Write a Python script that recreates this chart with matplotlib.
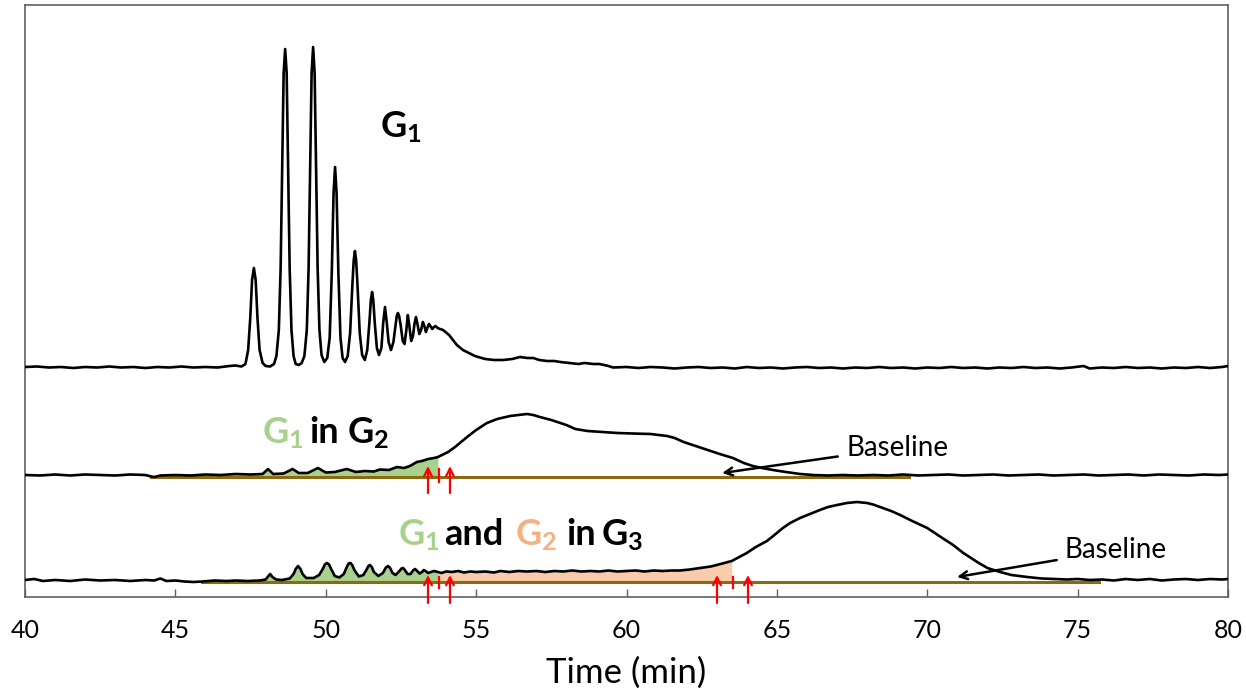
import numpy as np
import matplotlib
matplotlib.use("Agg")
import matplotlib.pyplot as plt

plt.rcParams['font.family'] = ['Lato', 'DejaVu Sans']
plt.rcParams['mathtext.fontset'] = 'custom'
plt.rcParams['mathtext.rm'] = 'Lato'
plt.rcParams['mathtext.bf'] = 'Lato:bold'

# G1 chromatogram (height above its own baseline)
t1_x = [40.0, 40.4, 40.8, 41.2, 41.6, 42.0, 42.4, 42.8, 43.2, 43.6, 44.0, 44.4, 44.8, 45.2,
        45.6, 46.0, 46.4, 46.8, 47.0, 47.2, 47.33, 47.42, 47.49, 47.55, 47.61, 47.67, 47.73,
        47.8, 47.9, 48.0, 48.15, 48.28, 48.36, 48.44, 48.5, 48.55, 48.6, 48.65, 48.7, 48.75,
        48.8, 48.86, 48.93, 49.0, 49.1, 49.2, 49.29, 49.37, 49.43, 49.48, 49.53, 49.58, 49.63,
        49.68, 49.73, 49.79, 49.86, 49.95, 50.05, 50.13, 50.2, 50.26, 50.31, 50.36, 50.42,
        50.49, 50.56, 50.64, 50.73, 50.81, 50.88, 50.93, 50.97, 51.01, 51.06, 51.13, 51.21,
        51.3, 51.38, 51.45, 51.5, 51.54, 51.58, 51.63, 51.7, 51.77, 51.85, 51.91, 51.97, 52.03,
        52.09, 52.17, 52.25, 52.32, 52.36, 52.4, 52.44, 52.49, 52.56, 52.62, 52.68, 52.73,
        52.78, 52.84, 52.9, 52.95, 53.0, 53.05, 53.11, 53.17, 53.23, 53.28, 53.33, 53.38,
        53.43, 53.48, 53.54, 53.6, 53.65, 53.72, 53.8, 53.9, 54.1, 54.36, 54.56, 54.96, 55.3,
        55.6, 55.9, 56.2, 56.46, 56.7, 56.9, 57.1, 57.36, 57.6, 57.8, 58.1, 58.4, 58.6, 58.9,
        59.1, 59.4, 59.55, 60.0, 60.4, 60.8, 61.2, 61.6, 62.0, 62.4, 62.8, 63.2, 63.6, 64.0,
        64.4, 64.8, 65.2, 65.6, 66.0, 66.4, 66.8, 67.2, 67.6, 68.0, 68.4, 68.8, 69.2, 69.6,
        70.0, 70.4, 70.8, 71.2, 71.6, 72.0, 72.4, 72.8, 73.2, 73.6, 74.0, 74.4, 74.8, 75.2,
        75.4, 75.8, 76.2, 76.6, 77.0, 77.4, 77.8, 78.2, 78.6, 79.0, 79.4, 79.8, 80.0]
t1_y = [1, 1.5, 0.5, 1, 0, 1, 0.5, 1.5, 0.5, 1, 0, 1, 0.5, 1.5,
        0.5, 1, 0.5, 2, 2.5, 1.5, 4, 18, 50, 88, 100, 88, 50,
        18, 5, 2, 1.5, 4, 12, 38, 100, 200, 295, 319, 295, 200,
        100, 38, 12, 4, 3, 5, 12, 38, 100, 200, 295, 321, 295,
        200, 100, 38, 13, 6, 10, 30, 95, 175, 201, 175, 95,
        30, 10, 6, 12, 35, 80, 108, 117, 108, 80, 35, 13,
        8, 18, 45, 68, 76, 68, 45, 20, 13, 20, 45, 61, 45,
        26, 18, 26, 43, 52, 55, 52, 43, 27, 24, 38, 53,
        42, 27, 32, 44, 51, 44, 34, 38, 46, 42, 36, 40,
        44, 42, 39, 41, 42, 40, 39, 38, 33, 23, 18, 12, 9,
        8, 8, 9, 11, 10, 10, 8, 7, 7, 6, 5, 4, 5, 4,
        4, 2, 0.5, 1, 0, 1, 0.5, -0.5, 0.5, 1, 0, 0.5, -0.5, 1,
        0, 0.5, -0.5, 0.5, 1, 0, 0.5, -0.5, 0.5, 0, 1, 0, 0.5, -0.5,
        0.5, 0, 1, 0, 0.5, -0.5, 0.5, 0, 1, 0, 0.5, -0.5, 0.5, 2,
        -0.5, 0.5, 0, 1, 0, 0.5, -0.5, 0.5, 0, 1, 0, 1, 2]

# G2 chromatogram
t2_x = [40.0, 40.5, 41.0, 41.5, 42.0, 42.5, 43.0, 43.5, 44.0, 44.2, 44.3, 44.5, 45.0, 45.5,
        46.0, 46.5, 47.0, 47.5, 47.9, 48.08, 48.25, 48.6, 48.9, 49.1, 49.4, 49.74, 50.0,
        50.3, 50.7, 51.0, 51.3, 51.6, 51.8, 52.1, 52.37, 52.6, 52.8, 53.03, 53.2, 53.4, 53.6,
        53.73, 53.9, 54.07, 54.3, 54.5, 54.7, 55.0, 55.36, 55.7, 56.13, 56.4, 56.7, 56.9,
        57.12, 57.5, 58.0, 58.3, 58.7, 59.2, 59.7, 60.2, 60.8, 61.35, 61.6, 61.9, 62.3, 62.7,
        63.1, 63.54, 63.9, 64.2, 64.5, 64.87, 65.3, 65.77, 66.2, 66.7, 67.2, 67.7, 68.2, 68.7,
        69.2, 69.7, 70.2, 70.7, 71.2, 71.7, 72.2, 72.7, 73.2, 73.7, 74.2, 74.7, 75.2, 75.7,
        76.2, 76.7, 77.2, 77.7, 78.2, 78.7, 79.2, 79.7, 80.0]
t2_y = [2, 1.5, 2.5, 1.5, 2.5, 2, 1.5, 2.5, 2, 0.5, 0, 1.5, 2, 1.5,
        2.5, 2, 3, 2.5, 3, 8, 3, 3.5, 8, 4, 4, 9, 4.5,
        5, 8, 5, 6, 5.5, 7.5, 7, 10, 9, 11, 15, 16, 18, 19,
        20, 22.5, 25, 30, 35, 40, 47, 54, 58, 61, 62, 63, 62,
        60, 57, 52, 48, 46, 45, 44, 43.5, 43, 41, 39, 35, 31, 27,
        23, 19, 14, 11, 9, 7, 5, 3, 2, 1.5, 2, 1.5, 2, 1.5,
        2.5, 1.5, 2, 2.5, 1.5, 2, 2.5, 1.5, 2, 2.5, 1.5, 2, 2.5, 1.5,
        2, 2.5, 1.5, 2.5, 2, 1.5, 2.5, 2, 2.5]

# G3 chromatogram
t3_x = [40.0, 40.3, 40.6, 41.0, 41.5, 42.0, 42.5, 43.0, 43.5, 44.0, 44.3, 44.5, 44.7, 45.0,
        45.3, 45.6, 45.9, 46.3, 46.7, 47.0, 47.4, 47.8, 48.0, 48.07, 48.15, 48.23, 48.35,
        48.55, 48.8, 48.93, 49.0, 49.08, 49.16, 49.23, 49.35, 49.6, 49.78, 49.9, 49.97, 50.04,
        50.11, 50.18, 50.3, 50.45, 50.6, 50.7, 50.76, 50.82, 50.88, 50.95, 51.1, 51.25, 51.35,
        51.42, 51.47, 51.53, 51.6, 51.75, 51.9, 52.0, 52.07, 52.14, 52.22, 52.32, 52.45,
        52.52, 52.57, 52.63, 52.72, 52.82, 52.9, 52.97, 53.04, 53.12, 53.2, 53.26, 53.32,
        53.4, 53.5, 53.6, 53.73, 53.85, 54.0, 54.2, 54.4, 54.6, 54.8, 55.0, 55.3, 55.6, 55.8,
        56.1, 56.4, 56.7, 57.0, 57.3, 57.6, 57.9, 58.2, 58.5, 58.8, 59.1, 59.4, 59.7, 60.0,
        60.3, 60.6, 60.9, 61.2, 61.5, 61.78, 62.1, 62.45, 62.8, 63.0, 63.25, 63.5, 63.75, 64.0,
        64.3, 64.67, 65.0, 65.2, 65.44, 65.77, 66.1, 66.43, 66.7, 67.0, 67.33, 67.66, 68.0,
        68.2, 68.43, 68.8, 69.1, 69.5, 70.0, 70.4, 70.86, 71.2, 71.66, 72.0, 72.42, 72.8,
        73.32, 73.8, 74.2, 74.65, 75.0, 75.4, 75.8, 76.2, 76.6, 77.0, 77.4, 77.8, 78.2, 78.6,
        79.0, 79.4, 79.8, 80.0]
t3_y = [2, 3, 1, 2, 1, 2.5, 1.5, 2, 1, 2, 1.5, 3.5, 1, 1.5,
        0.5, 0, 0.5, 1.5, 1, 1.5, 1, 1.5, 2.5, 5, 8, 5, 2.5,
        2, 3.5, 8, 13, 16, 13, 8, 4, 4, 7, 13, 17.5, 19,
        17.5, 13, 6, 4.5, 8, 15, 18.5, 19, 17, 12, 5.5, 7, 12,
        16, 17, 15, 10, 6, 9, 14.5, 16, 14, 9, 7, 11,
        13.5, 14, 12, 8, 8, 11.5, 13, 11, 8.5, 10, 12, 11,
        9, 10, 11, 10, 9, 10.5, 10, 11, 9.5, 10.5, 10, 10.5, 9.5, 11,
        10, 11, 10.5, 11, 10, 11, 10.5, 11.5, 10.5, 11, 10.5, 11.5, 10.5, 11,
        11.5, 10.5, 11.5, 11, 11.5, 11.5, 12.5, 14, 15.5, 17, 19, 21, 25, 29,
        35, 41, 49, 54, 59, 64, 68, 72, 75, 77, 79, 80, 79,
        77.5, 75, 71, 67, 61, 54, 46, 37, 29, 20, 14, 10, 7,
        5, 3.5, 3, 2.5, 3, 2, 2.5, 1.5, 3, 2, 3, 1.5, 2.5, 3,
        2, 3, 2.5, 3]

# trace offsets on the plot
off1, off2, off3 = 229, 120, 15

# baselines, integration windows and cut markers (min)
base2 = [44.2, 69.4]
base3 = [45.9, 75.7]
green2 = [44.2, 53.73]
green3 = [45.9, 53.73]
orange3 = [53.73, 63.5]
arrows2 = [53.40, 54.13]
ticks2 = [53.77]
arrows3 = [53.40, 54.13, 63.01, 64.04]
ticks3 = [53.77, 63.54]

green = '#a9d18e'
orange = '#f8cbad'
brown = '#8c6a12'

fig = plt.figure(figsize=(12.46, 6.95), dpi=100)
ax = fig.add_axes([25 / 1246, 98 / 695, 1203 / 1246, 592 / 695])

x1, y1 = np.array(t1_x), np.array(t1_y) + off1
x2, y2 = np.array(t2_x), np.array(t2_y) + off2
x3, y3 = np.array(t3_x), np.array(t3_y) + off3

# shaded areas
m = (x2 >= green2[0]) & (x2 <= green2[1])
ax.fill_between(x2[m], off2, y2[m], color=green, lw=0, zorder=1)
m = (x3 >= green3[0]) & (x3 <= green3[1])
ax.fill_between(x3[m], off3, y3[m], color=green, lw=0, zorder=1)
m = (x3 >= orange3[0]) & (x3 <= orange3[1])
ax.fill_between(x3[m], off3, y3[m], color=orange, lw=0, zorder=1)

ax.plot(base2, [off2, off2], color=brown, lw=2.2, zorder=2)
ax.plot(base3, [off3, off3], color=brown, lw=2.2, zorder=2)

for x, y in [(x1, y1), (x2, y2), (x3, y3)]:
    ax.plot(x, y, color='black', lw=1.9, zorder=3)

# red cut markers
red_arrow = dict(arrowstyle='->', color='red', lw=1.6, mutation_scale=14,
                 shrinkA=0, shrinkB=0)
for xa in arrows2:
    ax.annotate('', xy=(xa, off2 + 11), xytext=(xa, off2 - 16),
                arrowprops=red_arrow, annotation_clip=False, zorder=4)
for xt in ticks2:
    ax.plot([xt, xt], [off2 - 5, off2 + 8], color='red', lw=1.6, zorder=4)
for xa in arrows3:
    ax.annotate('', xy=(xa, off3 + 7), xytext=(xa, off3 - 21),
                arrowprops=red_arrow, annotation_clip=False, zorder=4)
for xt in ticks3:
    ax.plot([xt, xt], [off3 - 6, off3 + 5], color='red', lw=1.6, zorder=4, clip_on=False)

# labels
lab = dict(fontsize=26, fontweight='bold', ha='left', va='baseline')
ax.text(51.8, 460, r'$\mathbf{G_1}$', color='black', **lab)
ax.text(47.88, 154, r'$\mathbf{G_1}$', color=green, **lab)
ax.text(49.45, 154, 'in', color='black', **lab)
ax.text(50.7, 154, r'$\mathbf{G_2}$', color='black', **lab)
ax.text(52.4, 52, r'$\mathbf{G_1}$', color=green, **lab)
ax.text(53.95, 52, 'and', color='black', **lab)
ax.text(56.3, 52, r'$\mathbf{G_2}$', color='#f4b183', **lab)
ax.text(58.0, 52, 'in', color='black', **lab)
ax.text(59.15, 52, r'$\mathbf{G_3}$', color='black', **lab)

black_arrow = dict(arrowstyle='->', color='black', lw=1.8, mutation_scale=14, shrinkA=4, shrinkB=0)
ax.annotate('Baseline', xy=(63.18, 124), xytext=(67.3, 149), fontsize=20,
            va='center', ha='left', arrowprops=black_arrow)
ax.annotate('Baseline', xy=(70.99, 20), xytext=(74.58, 47), fontsize=20,
            va='center', ha='left', arrowprops=black_arrow)

ax.set_xlim(40, 80)
ax.set_ylim(0, 592)
ax.set_xticks(range(40, 81, 5))
ax.set_yticks([])
ax.tick_params(axis='x', direction='in', length=6, width=1, color='#606060',
               labelsize=18, pad=16)
for s in ax.spines.values():
    s.set_color('#606060')
    s.set_linewidth(1.2)
ax.set_xlabel('Time (min)', fontsize=25, labelpad=10)

fig.savefig('out.png', dpi=100)
